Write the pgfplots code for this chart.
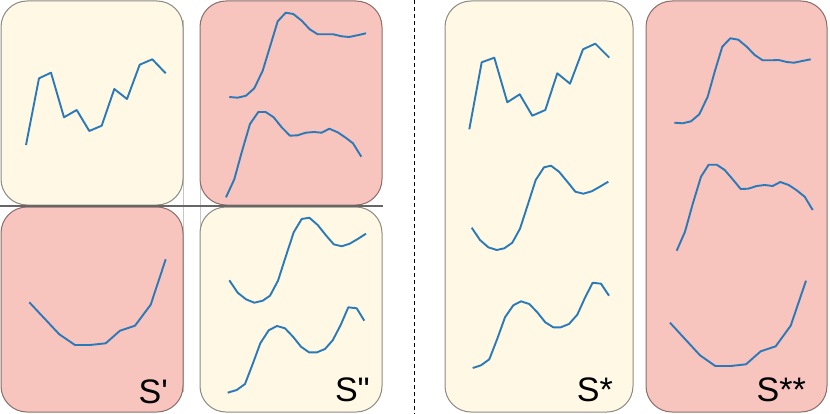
\documentclass[border=0pt]{standalone}
\usepackage{fontspec}
\usepackage{pgfplots}
\pgfplotsset{compat=1.18}
\newfontfamily\lab{Liberation Sans}
\definecolor{cream}{HTML}{FEF8E4}
\definecolor{pinkf}{HTML}{F8C4BE}
\definecolor{creamd}{HTML}{8C8B84}
\definecolor{pinkd}{HTML}{8A6E6A}
\definecolor{curve}{HTML}{2A7AB9}
\tikzset{crv/.style={draw=curve, solid, line width=1.9bp, line join=round, mark=none}}
\begin{document}
\begin{tikzpicture}
\useasboundingbox (0,0) rectangle (830bp,414bp);
\begin{axis}[at={(0,0)},anchor=south west,
  scale only axis, width=830bp, height=414bp,
  xmin=0, xmax=830, ymin=0, ymax=414, y dir=reverse,
  hide axis, clip=false]
% light grid lines
\draw[color=black!22, line width=0.9bp] (axis cs:183.5,20) -- (axis cs:183.5,392);
\draw[color=black!22, line width=0.9bp] (axis cs:200.5,20) -- (axis cs:200.5,392);
% boxes
\draw[rounded corners=26bp, fill=cream, draw=creamd, line width=1bp] (axis cs:1,1) rectangle (axis cs:183,205);
\draw[rounded corners=26bp, fill=pinkf, draw=pinkd, line width=1bp] (axis cs:200,1) rectangle (axis cs:382,205);
\draw[rounded corners=26bp, fill=pinkf, draw=pinkd, line width=1bp] (axis cs:1,207) rectangle (axis cs:183,412);
\draw[rounded corners=26bp, fill=cream, draw=creamd, line width=1bp] (axis cs:200,207) rectangle (axis cs:382,412);
\draw[rounded corners=26bp, fill=cream, draw=creamd, line width=1bp] (axis cs:445,1) rectangle (axis cs:633,412);
\draw[rounded corners=26bp, fill=pinkf, draw=pinkd, line width=1bp] (axis cs:646,1) rectangle (axis cs:827,412);
\draw[color=black!60, line width=1.2bp] (axis cs:0,206) -- (axis cs:383,206);
\draw[black, line width=1.5bp, dash pattern=on 4bp off 3bp] (axis cs:414.5,0) -- (axis cs:414.5,414);
% Box A: zigzag
\addplot[crv] coordinates {(26,145) (39,78.3) (51,72.7) (64,117.3) (76.7,110) (89.3,131) (101.7,125.7) (114.3,89) (127,99) (139.7,64.7) (152.3,59.3) (165.7,73.3)};
% Box B top
\addplot[crv] coordinates {(229.3,97) (237.7,97.7) (246,95.7) (254.3,88.3) (262.7,70.7) (270.3,45.7) (277.7,21.3) (285.7,12.7) (293.3,14) (301.7,20.7) (309.7,29.3) (317.7,34.3) (325.7,34.3) (333.3,34.3) (341.7,36.3) (349,37) (357.3,35.3) (366,33.3)};
% Box B bottom
\addplot[crv] coordinates {(226,197.3) (234.3,179.3) (241.7,152.3) (250,124) (258.3,112) (265.7,112) (273.7,117.3) (281.7,127.3) (290,135.7) (297.7,135.3) (305.7,132.7) (314,132) (321.7,132.7) (329.3,128.7) (337.7,132.3) (345.7,137.7) (353,143.3) (361.3,156.7)};
% Box C
\addplot[crv] coordinates {(29.3,302.3) (44.3,318.3) (59.3,334.3) (75,345) (90,345) (105.7,343.3) (120,330.7) (135,325.7) (150.7,304.7) (165.7,259.3)};
% Box D top
\addplot[crv] coordinates {(229.3,280.3) (237.7,292.7) (246,299.3) (254.3,302.7) (262.7,300.7) (270,295.7) (278,280.7) (285.7,256.7) (293.7,232.3) (301.7,219) (309.3,217.7) (317.7,225) (325.7,235) (333.7,244.3) (341.7,246.3) (349.7,243.7) (357.7,239) (366,233.7)};
% Box D bottom
\addplot[crv] coordinates {(227.7,392.7) (236.7,390) (245,384) (252.7,364) (260.3,343.3) (268.7,330.3) (277,326) (285,328.3) (293,336.7) (301,346.7) (309,352.3) (317,352.3) (325,349) (332.7,340.3) (340.7,325) (348.3,307.3) (356.7,308.3) (364.3,320.7)};
% Box E
\addplot[crv] coordinates {(469.3,129.3) (481.7,62.3) (494.3,57.7) (507.3,102.3) (519.7,94.3) (532.3,115.7) (545.3,110) (557.3,73.3) (570,83.7) (583,49.3) (595.3,43.7) (609.3,57.7)};
\addplot[crv] coordinates {(471.7,227.7) (480,240) (488.3,247.3) (496.7,250) (504.3,248.3) (512.3,242.7) (520,228.7) (527.7,205) (535.7,180) (544,167.3) (551,165.7) (559,171.7) (567.3,181.7) (575.3,191.7) (583.3,193.7) (591.7,191.3) (599.3,187) (608.3,181.7)};
\addplot[crv] coordinates {(472.7,368) (481,365.3) (489.3,359.3) (497.3,338.7) (505,317.3) (513.3,305.3) (521,301.3) (529.3,304) (537.3,312.3) (545.3,322.3) (553.3,327.3) (560.7,327.3) (569,324) (577.3,314.7) (585,297.7) (592.7,282.7) (601,283.7) (609,295.7)};
% Box F
\addplot[crv] coordinates {(674.3,122.7) (682.7,123.3) (691,121.3) (699.3,114.3) (707.7,96.7) (715,70.7) (722.3,46.7) (730.3,38.3) (738.3,39.7) (746.7,46.7) (754.7,55) (762.7,60.3) (770.7,60.3) (778.7,60) (786.7,62) (794,62.7) (802.3,61) (810.7,59.3)};
\addplot[crv] coordinates {(676.7,250.7) (685,231.7) (692.7,204) (701,176.7) (708.7,164.7) (716.7,164.7) (724.7,170) (732.7,179.3) (740.7,189) (748.3,188.7) (756.7,186) (764.7,185) (772.7,186) (780.3,182) (788.7,185) (796.7,190.3) (804.7,196.7) (812.7,210)};
\addplot[crv] coordinates {(670,322.7) (685,339) (700,355.3) (715.3,366) (730.7,366) (746,364.3) (760.7,351.3) (775.7,346.3) (790.7,325.7) (806,280.7)};
% labels
\node[anchor=base east, inner sep=0pt, font=\lab\fontsize{34bp}{40bp}\selectfont] at (axis cs:168,403) {S'};
\node[anchor=base east, inner sep=0pt, font=\lab\fontsize{34bp}{40bp}\selectfont] at (axis cs:370,401) {S"};
\node[anchor=base east, inner sep=0pt, font=\lab\fontsize{34bp}{40bp}\selectfont] at (axis cs:613,401) {S*};
\node[anchor=base east, inner sep=0pt, font=\lab\fontsize{34bp}{40bp}\selectfont] at (axis cs:806,401) {S**};
\end{axis}
\end{tikzpicture}
\end{document}
